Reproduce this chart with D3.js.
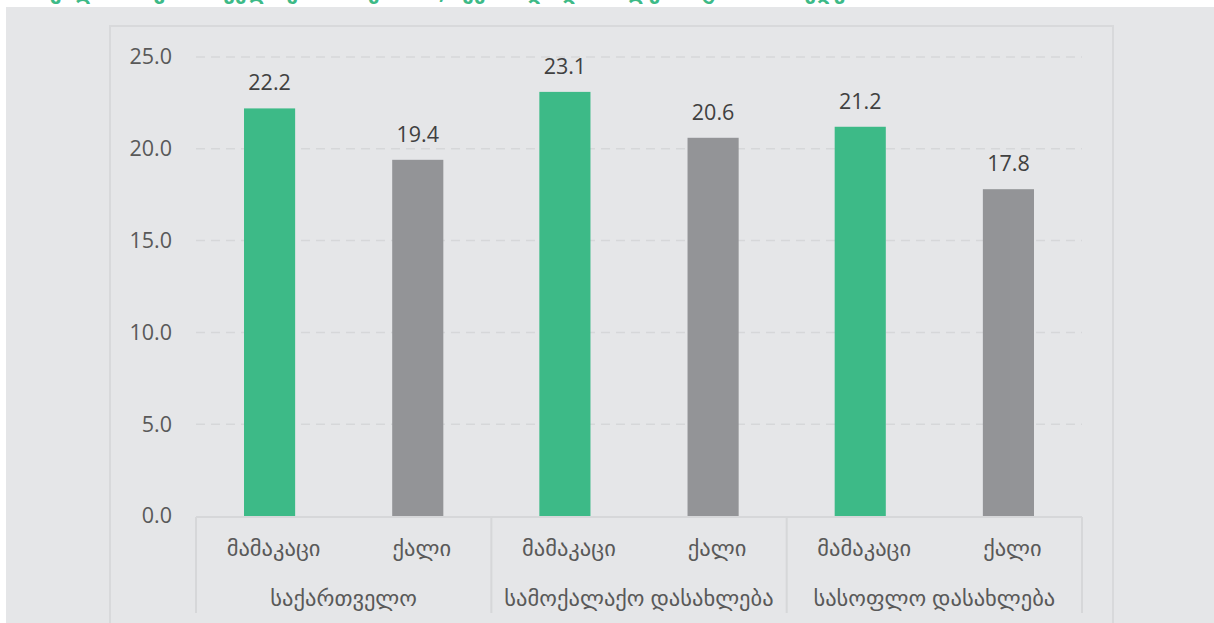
<!DOCTYPE html>
<html lang="ka">
<head>
<meta charset="UTF-8">
<title>chart</title>
<script src="https://cdn.jsdelivr.net/npm/d3@7"></script>
<style>
  html, body { margin: 0; padding: 0; background: #fff; }
  svg { display: block; font-family: "Open Sans", "DejaVu Sans", sans-serif; }
</style>
</head>
<body>
<script>
const groups = ["საქართველო", "სამოქალაქო დასახლება", "სასოფლო დასახლება"];
const sexes = ["მამაკაცი", "ქალი"];
const values = [
  [22.2, 19.4],
  [23.1, 20.6],
  [21.2, 17.8]
];
const yTicks = [0, 5, 10, 15, 20, 25];
const title = "საშუალო ასაკი პირველი ქორწინებისას, სქესის და დასახლების ტიპის მიხედვით";
const colors = ["#3dba87", "#939497"];

const W = 1214, H = 623;
const plot = { left: 196, right: 1082, top: 57, bottom: 516 };

const svg = d3.select("body").append("svg")
  .attr("width", W).attr("height", H);

// backgrounds
svg.append("rect").attr("x", 6).attr("y", 7).attr("width", W).attr("height", H)
  .attr("fill", "#e5e6e8");
svg.append("rect").attr("x", 110).attr("y", 26).attr("width", 1003).attr("height", H)
  .attr("fill", "none").attr("stroke", "#d8d9db").attr("stroke-width", 2);

// title, cut off at the top of the picture like in the source
svg.append("text").attr("x", 14).attr("y", -1)
  .attr("fill", "#3dba87").attr("font-size", 21).attr("font-weight", "bold")
  .text(title);

const y = d3.scaleLinear().domain([0, 25]).range([plot.bottom, plot.top]);
const x0 = d3.scaleBand().domain(groups).range([plot.left, plot.right]).padding(0);
const x1 = d3.scaleBand().domain(sexes).range([0, x0.bandwidth()])
  .paddingInner(0.655).paddingOuter(0.324);

// gridlines
svg.append("g").selectAll("line").data(yTicks.filter(d => d > 0)).join("line")
  .attr("x1", plot.left).attr("x2", plot.right)
  .attr("y1", d => y(d)).attr("y2", d => y(d))
  .attr("stroke", "#d6d7d9").attr("stroke-width", 1.5)
  .attr("stroke-dasharray", "9,6");

// y axis labels
const yAxis = svg.append("g").attr("transform", `translate(${plot.left},0)`)
  .call(d3.axisLeft(y).tickValues(yTicks).tickFormat(d3.format(".1f")).tickSize(0).tickPadding(24));
yAxis.select(".domain").remove();
yAxis.selectAll("text").attr("font-size", 21.5).attr("fill", "#595959")
  .attr("font-family", "'Open Sans', 'DejaVu Sans', sans-serif");

// bars
const g = svg.append("g").selectAll("g").data(groups).join("g")
  .attr("transform", d => `translate(${x0(d)},0)`);

g.selectAll("rect").data((d, i) => values[i].map((v, j) => ({ sex: sexes[j], v, j })))
  .join("rect")
  .attr("x", d => x1(d.sex))
  .attr("width", x1.bandwidth())
  .attr("y", d => y(d.v))
  .attr("height", d => y(0) - y(d.v))
  .attr("fill", d => colors[d.j]);

g.selectAll("text.val").data((d, i) => values[i].map((v, j) => ({ sex: sexes[j], v })))
  .join("text").attr("class", "val")
  .attr("x", d => x1(d.sex) + x1.bandwidth() / 2)
  .attr("y", d => y(d.v) - 18)
  .attr("text-anchor", "middle")
  .attr("font-size", 21.5).attr("fill", "#404040")
  .text(d => d3.format(".1f")(d.v));

// category axis
svg.append("line").attr("x1", plot.left).attr("x2", plot.right)
  .attr("y1", plot.bottom + 1).attr("y2", plot.bottom + 1)
  .attr("stroke", "#d6d7d9").attr("stroke-width", 2);

const seps = groups.map(d => x0(d)).concat([x0(groups[groups.length - 1]) + x0.bandwidth()]);
svg.append("g").selectAll("line").data(seps).join("line")
  .attr("x1", d => d).attr("x2", d => d)
  .attr("y1", plot.bottom + 1).attr("y2", 613)
  .attr("stroke", "#d6d7d9").attr("stroke-width", 2);

g.selectAll("text.sex").data(sexes).join("text").attr("class", "sex")
  .attr("x", d => x1(d) + x1.bandwidth() / 2 + 4)
  .attr("y", 556)
  .attr("text-anchor", "middle")
  .attr("font-size", 22.5).attr("fill", "#595959")
  .text(d => d);

g.append("text")
  .attr("x", x0.bandwidth() / 2)
  .attr("y", 606)
  .attr("text-anchor", "middle")
  .attr("font-size", 22.5).attr("fill", "#595959")
  .text(d => d);
</script>
</body>
</html>
